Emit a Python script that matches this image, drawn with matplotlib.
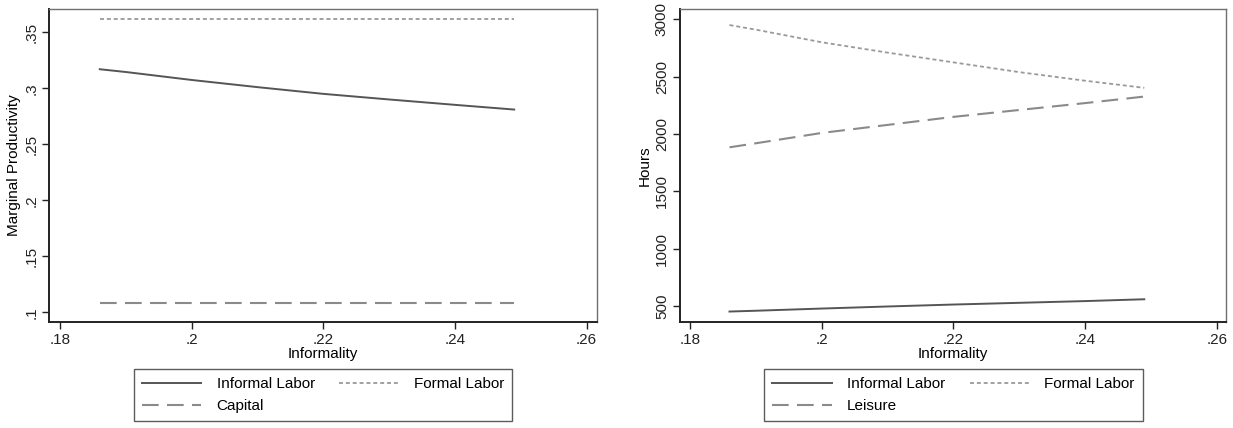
import matplotlib
matplotlib.use('Agg')
import matplotlib.pyplot as plt
from matplotlib.ticker import FuncFormatter

plt.rcParams['font.family'] = ['Liberation Sans', 'DejaVu Sans']

# informality grid (shared by both panels)
informality = [0.186, 0.19, 0.20, 0.21, 0.22, 0.23, 0.24, 0.249]

# left panel: marginal productivity
mp_informal = [0.317, 0.3145, 0.3074, 0.301, 0.295, 0.290, 0.2852, 0.281]
mp_formal = [0.362, 0.362, 0.362, 0.362, 0.362, 0.362, 0.362, 0.362]
mp_capital = [0.1083, 0.1083, 0.1083, 0.1083, 0.1083, 0.1083, 0.1083, 0.1083]

# right panel: hours
hr_informal = [454, 461, 480, 498, 515, 530, 545, 561]
hr_formal = [2950, 2910, 2800, 2710, 2625, 2540, 2465, 2403]
hr_leisure = [1885, 1920, 2010, 2080, 2150, 2210, 2270, 2327]

x_ticks = [0.18, 0.20, 0.22, 0.24, 0.26]
mp_ticks = [0.10, 0.15, 0.20, 0.25, 0.30, 0.35]
hr_ticks = [500, 1000, 1500, 2000, 2500, 3000]

FS = 11


def stata_num(v, pos=None):
    '''Stata-style labels: .2 instead of 0.2'''
    s = ('%.2f' % v).rstrip('0').rstrip('.')
    if s.startswith('0.'):
        s = s[1:]
    return s


def style_axes(ax):
    for side in ('top', 'right'):
        ax.spines[side].set_color('#707070')
        ax.spines[side].set_linewidth(1.0)
    for side in ('left', 'bottom'):
        ax.spines[side].set_color('#222222')
        ax.spines[side].set_linewidth(1.4)
    ax.tick_params(direction='out', length=5, width=1, colors='#222222',
                   labelsize=FS, pad=3)
    ax.set_xticks(x_ticks)
    ax.xaxis.set_major_formatter(FuncFormatter(stata_num))
    for lab in ax.get_yticklabels():
        lab.set_rotation(90)
        lab.set_va('center')
    ax.set_xlabel('Informality', fontsize=FS, labelpad=0)


def add_lines(ax, informal, formal, third):
    h1, = ax.plot(informality, informal, color='#555555', lw=1.4, ls='-')
    h2, = ax.plot(informality, formal, color='#9a9a9a', lw=1.3, ls=(0, (2.2, 1.6)))
    h3, = ax.plot(informality, third, color='#8a8a8a', lw=1.5, ls=(0, (8, 4)))
    return h1, h2, h3


def add_legend(handles, labels, cx):
    leg = fig.legend(handles, labels, ncol=2, loc='upper center',
                     bbox_to_anchor=(cx, 0.155), fontsize=FS, frameon=True,
                     fancybox=False, edgecolor='#333333', handlelength=3.9,
                     columnspacing=1.6, handletextpad=1.0,
                     labelspacing=0.55, borderpad=0.5)
    leg.get_frame().set_linewidth(1.0)
    return leg


fig = plt.figure(figsize=(12.33, 4.28), dpi=100)

# left panel
ax1 = fig.add_axes([0.040, 0.2477, 0.4444, 0.7313])
a, b, c = add_lines(ax1, mp_informal, mp_formal, mp_capital)
ax1.set_xlim(0.17833, 0.26163)
ax1.set_ylim(0.0913, 0.3708)
ax1.set_yticks(mp_ticks)
ax1.yaxis.set_major_formatter(FuncFormatter(stata_num))
ax1.set_ylabel('Marginal Productivity', fontsize=FS, labelpad=2)
style_axes(ax1)
add_legend([a, c, b], ['Informal Labor', 'Capital', 'Formal Labor'], 0.262)

# right panel
ax2 = fig.add_axes([0.5515, 0.2477, 0.4428, 0.7313])
a, b, c = add_lines(ax2, hr_informal, hr_formal, hr_leisure)
ax2.set_xlim(0.17848, 0.26141)
ax2.set_ylim(363, 3090)
ax2.set_yticks(hr_ticks)
ax2.yaxis.set_major_formatter(FuncFormatter(lambda v, p: '%d' % v))
ax2.set_ylabel('Hours', fontsize=FS, labelpad=2)
style_axes(ax2)
add_legend([a, c, b], ['Informal Labor', 'Leisure', 'Formal Labor'], 0.7733)

fig.savefig('out.png', dpi=100)
